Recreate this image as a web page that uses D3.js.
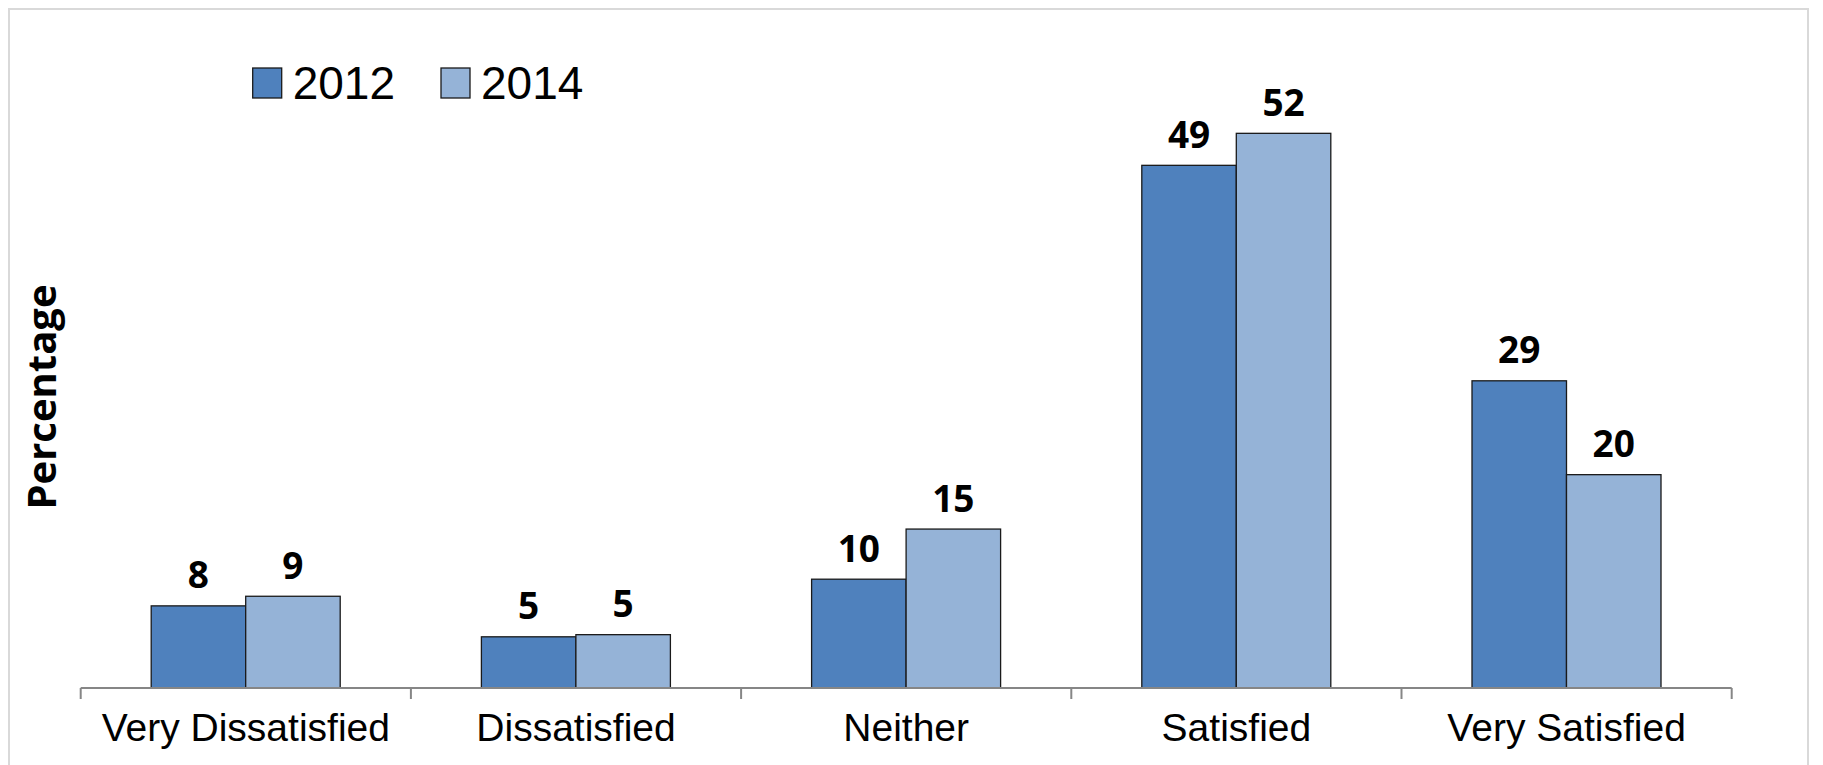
<!DOCTYPE html>
<html>
<head>
<meta charset="utf-8">
<script src="https://cdn.jsdelivr.net/npm/d3@7"></script>
<style>
  body { margin: 0; background: #fff; }
  svg { display: block; }
</style>
</head>
<body>
<div class="drawing"></div>
<script>
// data
var categories = ["Very Dissatisfied", "Dissatisfied", "Neither", "Satisfied", "Very Satisfied"];
var seriesNames = ["2012", "2014"];
var values2012 = [7.7, 4.8, 10.2, 49, 28.8];
var values2014 = [8.6, 5.0, 14.9, 52, 20.0];
var seriesColors = ["#4f81bd", "#95b3d7"];

var width = 1823, height = 765;

var svg = d3.select(".drawing").append("svg")
    .attr("width", width)
    .attr("height", height);

// light frame around chart
svg.append("rect")
    .attr("x", 9).attr("y", 9)
    .attr("width", 1799).attr("height", 780)
    .attr("fill", "none")
    .attr("stroke", "#d9d9d9")
    .attr("stroke-width", 2);

var x0 = d3.scaleBand()
    .domain(categories)
    .range([80.7, 1731.7]);

var x1 = d3.scaleBand()
    .domain(seriesNames)
    .range([70.5, 70.5 + 189]);

var y = d3.scaleLinear()
    .domain([0, 60])
    .range([688, 48]);

var rows = categories.map(function(c, i) {
    return { cat: c, vals: [
        { s: seriesNames[0], v: values2012[i], c: seriesColors[0] },
        { s: seriesNames[1], v: values2014[i], c: seriesColors[1] }
    ]};
});

var groups = svg.selectAll(".group")
    .data(rows)
    .enter().append("g")
    .attr("class", "group")
    .attr("transform", function(d) { return "translate(" + x0(d.cat) + ",0)"; });

groups.selectAll("rect")
    .data(function(d) { return d.vals; })
    .enter().append("rect")
    .attr("x", function(d) { return x1(d.s); })
    .attr("y", function(d) { return y(d.v); })
    .attr("width", x1.bandwidth())
    .attr("height", function(d) { return y(0) - y(d.v); })
    .attr("fill", function(d) { return d.c; })
    .attr("stroke", "#1a1a1a")
    .attr("stroke-width", 1.3);

groups.selectAll(".lbl")
    .data(function(d) { return d.vals; })
    .enter().append("text")
    .attr("class", "lbl")
    .attr("x", function(d) { return x1(d.s) + x1.bandwidth() / 2; })
    .attr("y", function(d) { return y(d.v) - 17.5; })
    .attr("text-anchor", "middle")
    .style("font-family", "'Open Sans', sans-serif")
    .style("font-weight", "bold")
    .style("font-size", "37px")
    .text(function(d) { return d3.format(".0f")(d.v); });

// category axis
svg.append("line")
    .attr("x1", x0.range()[0]).attr("x2", x0.range()[1])
    .attr("y1", 688).attr("y2", 688)
    .attr("stroke", "#868686").attr("stroke-width", 2);

var tickPos = categories.map(function(c) { return x0(c); }).concat([x0.range()[1]]);
svg.selectAll(".tick-mark")
    .data(tickPos)
    .enter().append("line")
    .attr("class", "tick-mark")
    .attr("x1", function(d) { return d; }).attr("x2", function(d) { return d; })
    .attr("y1", 688).attr("y2", 699)
    .attr("stroke", "#868686").attr("stroke-width", 2);

svg.selectAll(".cat-label")
    .data(categories)
    .enter().append("text")
    .attr("class", "cat-label")
    .attr("x", function(d) { return x0(d) + x0.bandwidth() / 2; })
    .attr("y", 741)
    .attr("text-anchor", "middle")
    .style("font-family", "'Liberation Sans', Arial, sans-serif")
    .style("font-size", "39px")
    .text(function(d) { return d; });

// y title
svg.append("text")
    .attr("transform", "translate(56,397) rotate(-90)")
    .attr("text-anchor", "middle")
    .style("font-family", "'Open Sans', sans-serif")
    .style("font-weight", "bold")
    .style("font-size", "40px")
    .text("Percentage");

// legend
var legendX = [252.7, 441];
var legend = svg.selectAll(".legend")
    .data(seriesNames)
    .enter().append("g")
    .attr("class", "legend")
    .attr("transform", function(d, i) { return "translate(" + legendX[i] + ",68)"; });

legend.append("rect")
    .attr("width", 29).attr("height", 30)
    .attr("fill", function(d, i) { return seriesColors[i]; })
    .attr("stroke", "#1a1a1a")
    .attr("stroke-width", 1.3);

legend.append("text")
    .attr("x", 40)
    .attr("y", 31)
    .style("font-family", "'Liberation Sans', Arial, sans-serif")
    .style("font-size", "46px")
    .text(function(d) { return d; });
</script>
</body>
</html>
